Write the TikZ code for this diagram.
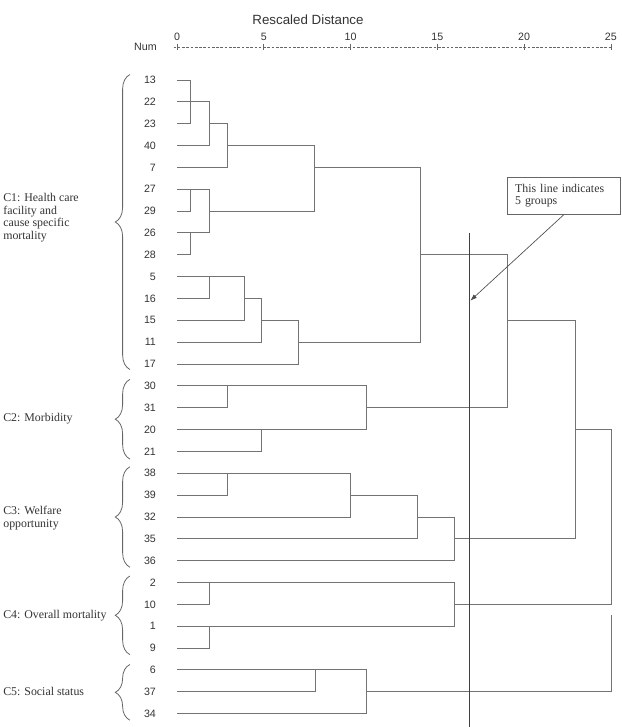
\documentclass[tikz,border=0pt]{standalone}
\usepackage{fontspec}
\setmainfont{Liberation Serif}
\setsansfont{Liberation Sans}
\usetikzlibrary{decorations.pathreplacing,arrows.meta}

\begin{document}
\begin{tikzpicture}[x=13.02pt,y=-16.39pt,
  tree/.style={draw=black!55,line width=0.7pt},
  leaf/.style={anchor=east,inner sep=0pt,font=\sffamily\fontsize{8}{9}\selectfont,text=black!80},
  grp/.style={anchor=west,inner sep=0pt,align=left,font=\rmfamily\fontsize{8.9}{9.3}\selectfont,text=black!80},
  bracket/.style={draw=black!60,line width=0.6pt,decorate,decoration={brace,amplitude=11pt}}]

\useasboundingbox (-10.196,-3.661) rectangle (25.634,29.611);

% axis
\node[font=\sffamily\fontsize{10}{12}\selectfont,text=black!80] (title) at (7.55,-2.75) {Rescaled Distance};
\node[leaf] (num) at (-1.15,-1.51) {Num};
\draw[black!60,dash pattern=on 2pt off 1.2pt] (-0.2,-1.51) -- (25.1,-1.51);
\foreach \t in {0,5,...,25} {
  \draw[black!60] (\t,-1.66) -- (\t,-1.36);
  \node[font=\sffamily\fontsize{8}{9}\selectfont,text=black!80,inner sep=0pt] (t\t) at (\t,-1.97) {\t};
}

% leaves
\foreach \lab [count=\i from 0] in {13,22,23,40,7,27,29,26,28,5,16,15,11,17,30,31,20,21,38,39,32,35,36,2,10,1,9,6,37,34}
  \node[leaf] (n\lab) at (-1.2,\i) {\lab};

% C1
\draw[tree] (0,0) -- (0.75,0) -- (0.75,2) -- (0,2);
\draw[tree] (0,1) -- (1.9,1) -- (1.9,3) -- (0,3);
\draw[tree] (1.9,2) -- (2.92,2) -- (2.92,4) -- (0,4);
\draw[tree] (0,5) -- (1.9,5) -- (1.9,7) -- (0,7);
\draw[tree] (0.75,5) -- (0.75,6) -- (0,6);
\draw[tree] (0.75,7) -- (0.75,8) -- (0,8);
\draw[tree] (2.92,3) -- (7.91,3) -- (7.91,6) -- (1.9,6);
\draw[tree] (0,9) -- (3.88,9) -- (3.88,11) -- (0,11);
\draw[tree] (1.9,9) -- (1.9,10) -- (0,10);
\draw[tree] (3.88,10) -- (4.88,10) -- (4.88,12) -- (0,12);
\draw[tree] (4.88,11) -- (6.99,11) -- (6.99,13) -- (0,13);
\draw[tree] (7.91,4) -- (14,4) -- (14,12) -- (6.99,12);

% C2
\draw[tree] (0,14) -- (10.93,14) -- (10.93,16) -- (0,16);
\draw[tree] (2.88,14) -- (2.88,15) -- (0,15);
\draw[tree] (4.88,16) -- (4.88,17) -- (0,17);
\draw[tree] (14,8) -- (19.05,8) -- (19.05,15) -- (10.93,15);

% C3
\draw[tree] (0,18) -- (9.97,18) -- (9.97,20) -- (0,20);
\draw[tree] (2.88,18) -- (2.88,19) -- (0,19);
\draw[tree] (9.97,19) -- (13.86,19) -- (13.86,21) -- (0,21);
\draw[tree] (13.86,20) -- (15.98,20) -- (15.98,22) -- (0,22);
\draw[tree] (19.05,11) -- (22.93,11) -- (22.93,21) -- (15.98,21);

% C4
\draw[tree] (0,23) -- (15.98,23) -- (15.98,25) -- (0,25);
\draw[tree] (1.9,23) -- (1.9,24) -- (0,24);
\draw[tree] (1.9,25) -- (1.9,26) -- (0,26);

% C5
\draw[tree] (0,27) -- (10.93,27) -- (10.93,29) -- (0,29);
\draw[tree] (7.97,27) -- (7.97,28) -- (0,28);

\draw[tree] (22.93,16) -- (25.04,16) -- (25.04,24) -- (15.98,24);
\draw[tree] (25.04,24.5) -- (25.04,28) -- (10.93,28);

% cut line
\draw[black!75,line width=0.8pt] (16.84,7) coordinate (cuttop) -- (16.84,29.7) coordinate (cutbot);
\coordinate (hit) at (16.9,10.1);

\node[draw=black!60,line width=0.6pt,anchor=north west,inner xsep=6pt,inner ysep=0pt,
  text width=72.9pt,minimum height=27.7pt,align=left,text=black!80,
  font=\rmfamily\fontsize{8.9}{9}\selectfont] (note) at (19.0,4.44) {This line indicates\\5 groups};
\draw[black!70,line width=0.5pt,-{Latex[length=5pt,width=3.5pt]}] (note.south) -- (hit);

% groups
\draw[bracket] (-2.71,13.25) -- (-2.71,-0.25);
\draw[bracket] (-2.71,17.35) -- (-2.71,13.7);
\draw[bracket] (-2.71,22.3) -- (-2.71,17.7);
\draw[bracket] (-2.71,26.3) -- (-2.71,22.7);
\draw[bracket] (-2.71,29.3) -- (-2.71,26.75);

\node[grp] (c1) at (-10.02,6.3) {C1: Health care\\facility and\\cause specific\\mortality};
\node[grp] (c2) at (-10.02,15.5) {C2: Morbidity};
\node[grp] (c3) at (-10.02,20.05) {C3: Welfare\\opportunity};
\node[grp] (c4) at (-10.02,24.5) {C4: Overall mortality};
\node[grp] (c5) at (-10.02,28.0) {C5: Social status};

\end{tikzpicture}
\end{document}
